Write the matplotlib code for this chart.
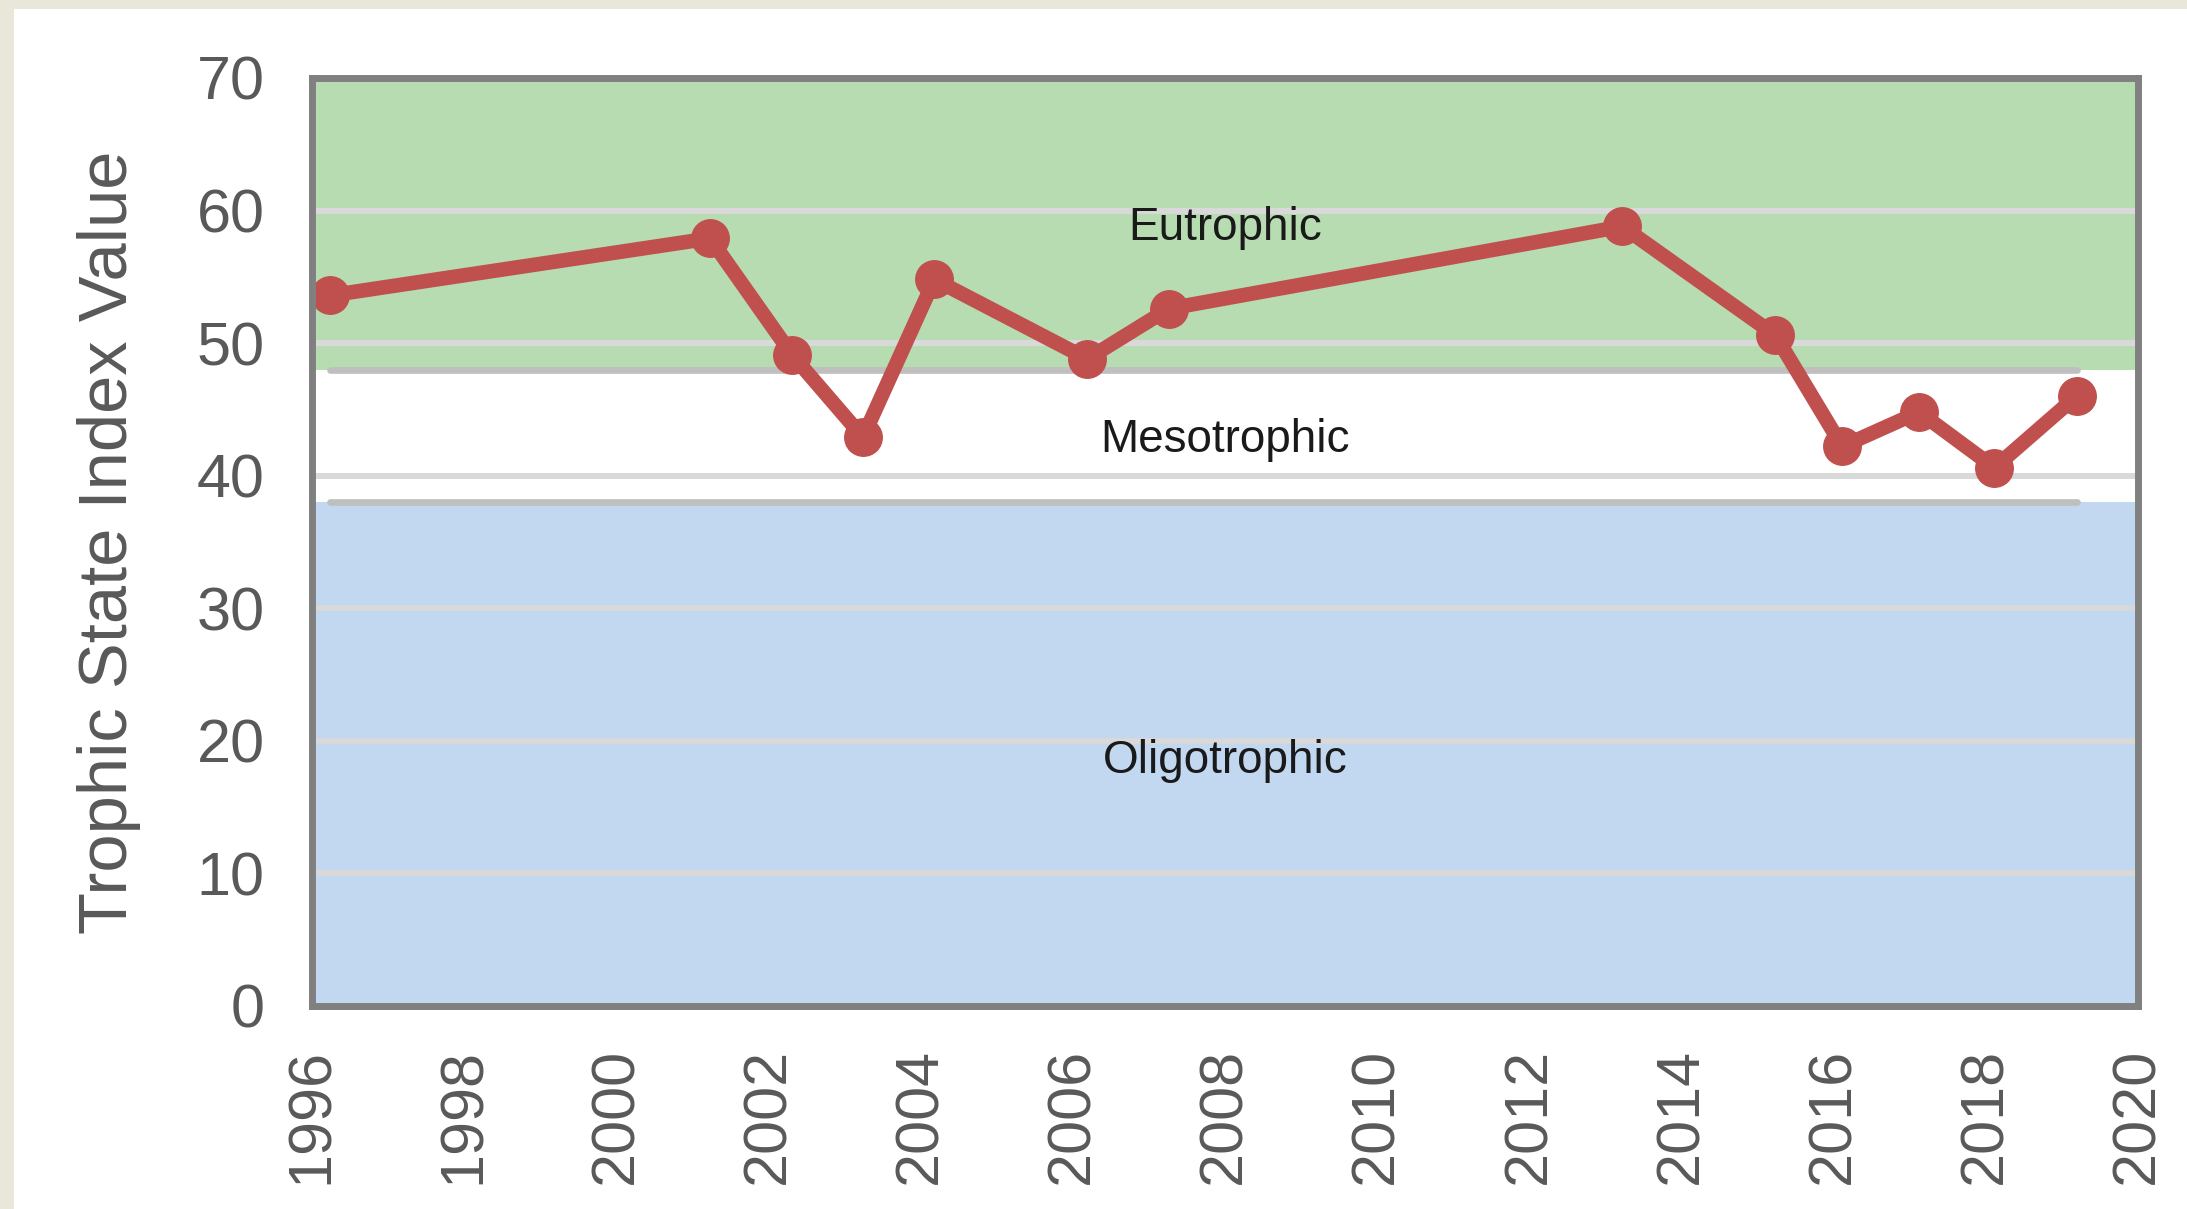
import matplotlib
matplotlib.use("Agg")
from matplotlib import pyplot as plt
from matplotlib.patches import Rectangle

# sample dates (decimal years) and trophic state index values
years = [1996.24, 2001.23, 2002.31, 2003.24, 2004.18, 2006.19, 2007.26,
         2013.22, 2015.23, 2016.11, 2017.12, 2018.11, 2019.19]
tsi = [53.6, 57.9, 49.1, 42.9, 54.8, 48.8, 52.6,
       58.8, 50.6, 42.2, 44.8, 40.6, 46.0]

# trophic class limits
oligo_top = 38
eutro_bottom = 48
y_max = 70
zone_names = ["Eutrophic", "Mesotrophic", "Oligotrophic"]
zone_label_y = [58.7, 42.7, 18.5]

xticks = list(range(1996, 2021, 2))
yticks = list(range(0, 71, 10))

plt.rcParams['font.family'] = ['Liberation Sans', 'DejaVu Sans']

fig = plt.figure(figsize=(21.87, 12.09), dpi=100)
fig.patch.set_facecolor("#E8E7D9")
fig.patches.append(Rectangle((14 / 2187, 0), 1, 1 - 9 / 1209,
                             transform=fig.transFigure, facecolor="white",
                             edgecolor="none", zorder=-10))

ax = fig.add_axes([0.1427, 0.168, 0.835, 0.7675])
ax.set_xlim(1996, 2020)
ax.set_ylim(0, y_max)

# zone backgrounds
ax.axhspan(eutro_bottom, y_max, color="#B8DCB2", zorder=0, lw=0)
ax.axhspan(oligo_top, eutro_bottom, color="white", zorder=0, lw=0)
ax.axhspan(0, oligo_top, color="#C2D7F0", zorder=0, lw=0)

# gridlines
for yv in yticks[1:-1]:
    ax.axhline(yv, color="#D9D9D9", lw=4.3, zorder=1)

# zone boundary lines over the data span
for yv in [eutro_bottom, oligo_top]:
    ax.plot([years[0], years[-1]], [yv, yv], color="#BFBFBF", lw=4.8,
            solid_capstyle="round", zorder=2)

ax.plot(years, tsi, color="#C0504D", lw=10.5, marker="o", markersize=27,
        zorder=3)

for name, yv in zip(zone_names, zone_label_y):
    ax.text(2008, yv, name, ha="center", va="center", fontsize=33,
            color="#1A1A1A", zorder=4)

ax.set_xticks(xticks)
ax.set_xticklabels([str(x) for x in xticks], rotation=90)
ax.set_yticks(yticks)
ax.tick_params(axis="both", length=0, labelsize=44, colors="#595959")
ax.tick_params(axis="x", pad=30)
ax.tick_params(axis="y", pad=34)

for sp in ax.spines.values():
    sp.set_color("#808080")
    sp.set_linewidth(5)
    sp.set_zorder(5)

ax.set_ylabel("Trophic State Index Value", fontsize=49.5, color="#595959")
ax.yaxis.set_label_coords(-0.0935, 0.5)

plt.savefig("out.png", dpi=100, facecolor=fig.get_facecolor())
